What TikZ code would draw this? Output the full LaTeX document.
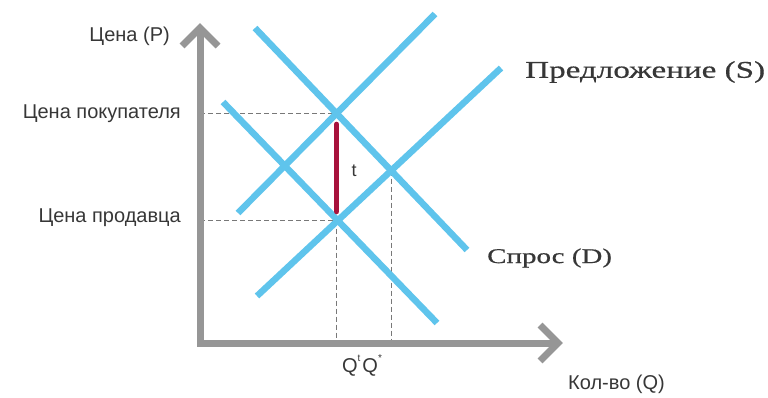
\documentclass[tikz,border=0pt]{standalone}
\usepackage{fontspec}
\setmainfont{Liberation Sans}
\newfontfamily\wideserif[FakeStretch=1.38,FakeBold=0.6]{Liberation Serif}
\usetikzlibrary{intersections}
\definecolor{lblue}{RGB}{95,196,236}
\definecolor{axgray}{RGB}{150,150,150}
\definecolor{txtgray}{RGB}{55,55,55}
\definecolor{dashgray}{RGB}{120,120,120}
\definecolor{taxred}{RGB}{168,18,60}
\begin{document}
\begin{tikzpicture}[x=1pt,y=-1pt,
  curve/.style={lblue, line width=6.5pt},
  axisline/.style={axgray, line width=7pt, line join=miter},
  guide/.style={dashgray, line width=0.9pt, dash pattern=on 5pt off 3pt},
  lbl/.style={text=txtgray, inner sep=0pt, font=\fontsize{20}{22}\selectfont},
  curvelbl/.style={text=txtgray, inner sep=0pt}]
\useasboundingbox (0,0) rectangle (768,398);
% coordinates
\coordinate (origin) at (200,343);
\coordinate (vtip) at (200,28);
\coordinate (htip) at (558,343);
\coordinate (d1a) at (255,28);  \coordinate (d1b) at (467,250);
\coordinate (d2a) at (223,102); \coordinate (d2b) at (437,323);
\coordinate (s1a) at (238,213); \coordinate (s1b) at (435,14);
\coordinate (s2a) at (257,296); \coordinate (s2b) at (501,68);
\path[name path=D1] (d1a) -- (d1b);
\path[name path=D2] (d2a) -- (d2b);
\path[name path=S1] (s1a) -- (s1b);
\path[name path=S2] (s2a) -- (s2b);
\path[name intersections={of=D1 and S1, by=A}];
\path[name intersections={of=D2 and S2, by=B}];
\path[name intersections={of=D1 and S2, by=E}];
% guides
\draw[guide] (A -| origin) -- (A);
\draw[guide] (B -| origin) -- (B);
\draw[guide] (A |- B) -- (A |- origin);
\draw[guide] (E) -- (E |- origin);
% curves
\draw[curve] (d1a) -- (d1b);
\draw[curve] (d2a) -- (d2b);
\draw[curve] (s1a) -- (s1b);
\draw[curve] (s2a) -- (s2b);
% tax wedge
\draw[taxred, line width=5.5pt, line cap=round, shorten <=11pt, shorten >=9pt] (A) -- (A |- B);
% axes
\draw[axisline] (vtip) -- (origin) -- (htip);
\draw[axisline] ([shift={(-18,18)}]vtip) -- (vtip) -- ([shift={(18,18)}]vtip);
\draw[axisline] ([shift={(-18,-18)}]htip) -- (htip) -- ([shift={(-18,18)}]htip);
% labels
\node[lbl, anchor=east] (pax) at (170,36) {Цена (P)};
\node[lbl, anchor=east] (pbuy) at (181,114) {Цена покупателя};
\node[lbl, anchor=east] (psell) at (181,218) {Цена продавца};
\node[lbl, anchor=center] (qlab) at (362,365) {Q\raisebox{0.55em}{\fontsize{10}{10}\selectfont t}\hspace{2pt}Q\raisebox{0.55em}{\fontsize{10}{10}\selectfont *}};
\node[lbl, anchor=west] (qax) at (568,384) {Кол-во (Q)};
\node[lbl, anchor=center, font=\fontsize{18}{20}\selectfont] (tlab) at (354,171) {t};
\node[curvelbl, anchor=west, font=\wideserif\fontsize{24}{26}\selectfont] (slab) at (525,72) {Предложение (S)};
\node[curvelbl, anchor=west, font=\wideserif\fontsize{21}{24}\selectfont] (dlab) at (487,258) {Спрос (D)};
\end{tikzpicture}
\end{document}
